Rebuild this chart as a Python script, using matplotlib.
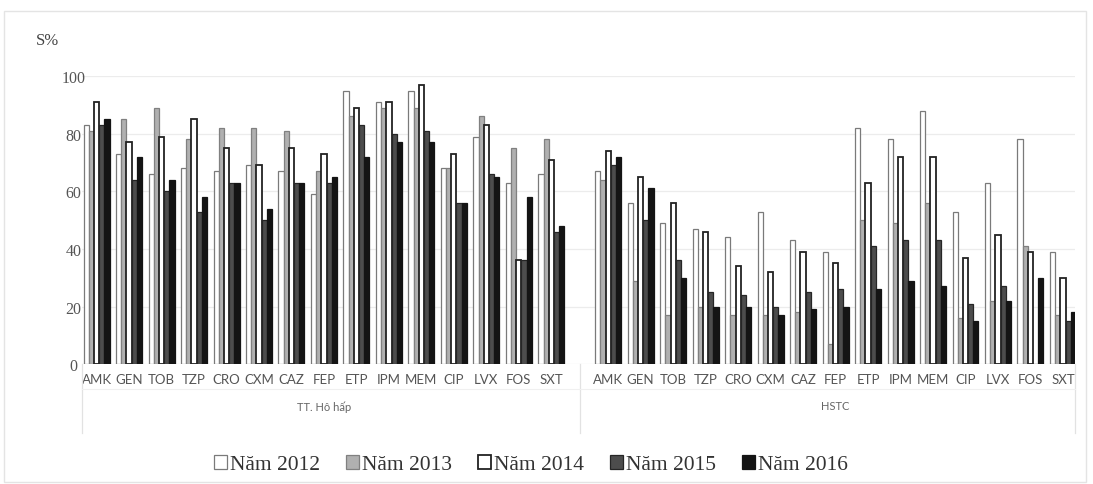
import matplotlib
matplotlib.use("Agg")
import matplotlib.pyplot as plt
import numpy as np
from matplotlib.patches import Rectangle, Patch
from matplotlib.lines import Line2D

# Antibiotic codes (same list for both wards)
drugs = ["AMK", "GEN", "TOB", "TZP", "CRO", "CXM", "CAZ", "FEP",
         "ETP", "IPM", "MEM", "CIP", "LVX", "FOS", "SXT"]
wards = ["TT. Hô hấp", "HSTC"]
years = ["Năm 2012", "Năm 2013", "Năm 2014", "Năm 2015", "Năm 2016"]

# Susceptibility (S%) — respiratory centre
resp_2012 = [83, 73, 66, 68, 67, 69, 67, 59, 95, 91, 95, 68, 79, 63, 66]
resp_2013 = [81, 85, 89, 78, 82, 82, 81, 67, 86, 89, 89, 68, 86, 75, 78]
resp_2014 = [91, 77, 79, 85, 75, 69, 75, 73, 89, 91, 97, 73, 83, 36, 71]
resp_2015 = [83, 64, 60, 53, 63, 50, 63, 63, 83, 80, 81, 56, 66, 36, 46]
resp_2016 = [85, 72, 64, 58, 63, 54, 63, 65, 72, 77, 77, 56, 65, 58, 48]

# Susceptibility (S%) — ICU (HSTC)
icu_2012 = [67, 56, 49, 47, 44, 53, 43, 39, 82, 78, 88, 53, 63, 78, 39]
icu_2013 = [64, 29, 17, 20, 17, 17, 18, 7, 50, 49, 56, 16, 22, 41, 17]
icu_2014 = [74, 65, 56, 46, 34, 32, 39, 35, 63, 72, 72, 37, 45, 39, 30]
icu_2015 = [69, 50, 36, 25, 24, 20, 25, 26, 41, 43, 43, 21, 27, 0, 15]
icu_2016 = [72, 61, 30, 20, 20, 17, 19, 20, 26, 29, 27, 15, 22, 30, 18]

resp = [resp_2012, resp_2013, resp_2014, resp_2015, resp_2016]
icu = [icu_2012, icu_2013, icu_2014, icu_2015, icu_2016]

styles = [
    dict(facecolor="white", edgecolor="#7a7a7a", linewidth=0.9),
    dict(facecolor="#b0b0b0", edgecolor="#808080", linewidth=0.9),
    dict(facecolor="white", edgecolor="#222222", linewidth=1.3),
    dict(facecolor="#4d4d4d", edgecolor="#262626", linewidth=0.9),
    dict(facecolor="#141414", edgecolor="#141414", linewidth=0.9),
]

plt.rcParams["font.family"] = ["DejaVu Sans"]

fig = plt.figure(figsize=(10.93, 4.85), dpi=100)
ax = fig.add_axes([0.075, 0.247, 0.9085, 0.594])

n = len(drugs)
offset2 = 15.75
x1 = np.arange(n, dtype=float)
x2 = np.arange(n, dtype=float) + offset2
bw = 0.16

for k in range(5):
    dx = (k - 2) * bw
    ax.bar(x1 + dx, resp[k], width=bw, **styles[k], zorder=3)
    ax.bar(x2 + dx, icu[k], width=bw, **styles[k], zorder=3)

ax.set_ylim(0, 100)
ax.set_xlim(-0.45, 30.12)
ax.set_yticks([0, 20, 40, 60, 80, 100])
ax.yaxis.grid(True, color="#ececec", linewidth=0.9, zorder=0)
ax.set_axisbelow(True)
for s in ax.spines.values():
    s.set_visible(False)
ax.tick_params(axis="y", length=0, pad=6, labelsize=11.5, labelcolor="#555555")
for t in ax.get_yticklabels():
    t.set_fontfamily(["Liberation Serif"])
    t.set_horizontalalignment("center")

ax.set_xticks(np.concatenate([x1, x2]))
ax.set_xticklabels(drugs + drugs, fontfamily=["Lato", "DejaVu Sans"],
                   fontsize=9.5, color="#555555")
ax.tick_params(axis="x", length=0, pad=6)

# ward labels and divider lines below the category axis
ax.text(np.mean(x1), -14.5, wards[0], ha="center", va="center", fontsize=8,
        color="#666666", family=["Lato", "DejaVu Sans"])
ax.text(np.mean(x2), -14.5, wards[1], ha="center", va="center", fontsize=8,
        color="#666666", family=["Lato", "DejaVu Sans"])
for xv in [-0.45, (x1[-1] + x2[0]) / 2, 30.12]:
    ax.add_line(Line2D([xv, xv], [0, -24], color="#e2e2e2", linewidth=0.9,
                       clip_on=False))
ax.add_line(Line2D([-0.45, 30.12], [-8.5, -8.5], color="#f0f0f0",
                   linewidth=0.8, clip_on=False))

fig.text(0.033, 0.915, "S%", fontsize=12, color="#444444",
         family=["Liberation Serif"], ha="left", va="center")

handles = [Patch(**styles[k], label=years[k]) for k in range(5)]
fig.legend(handles=handles, loc="center", bbox_to_anchor=(0.486, 0.04),
           ncol=5, frameon=False, prop={"family": "Liberation Serif", "size": 15.5},
           handlelength=0.6, handleheight=0.6, handletextpad=0.15,
           columnspacing=1.2, labelcolor="#333333")

# light frame around the chart area
fig.add_artist(Rectangle((0.004, 0.005), 0.99, 0.97, transform=fig.transFigure,
                         fill=False, edgecolor="#e4e4e4", linewidth=1.0))

fig.savefig("out.png", dpi=100, facecolor="white")
